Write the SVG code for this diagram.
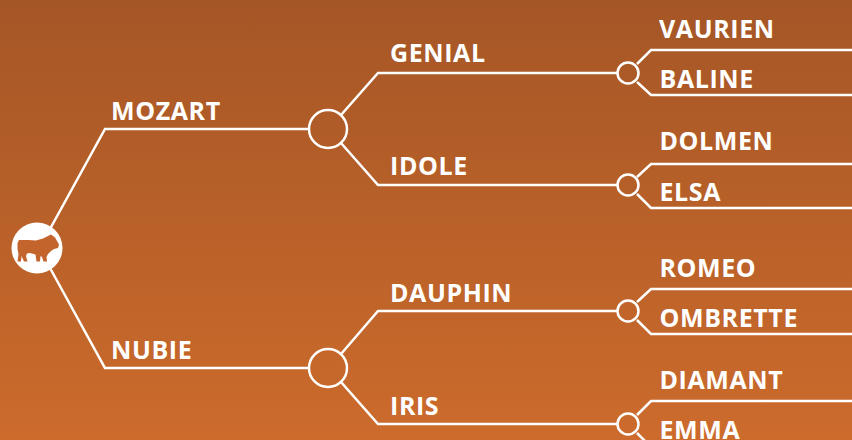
<svg xmlns="http://www.w3.org/2000/svg" width="852" height="440" viewBox="0 0 852 440">
<style>
.c{fill:none;stroke:#fff;stroke-width:2.5}
.n{fill:none;stroke:#fff;stroke-width:2.5}
text{font-family:"Open Sans","Noto Sans",sans-serif;font-weight:700;font-size:25px;fill:#fff;letter-spacing:.6px}
</style>
<defs><linearGradient id="bg" x1="0" y1="0" x2="0" y2="1"><stop offset="0" stop-color="#a55626"/><stop offset="1" stop-color="#cc6b2c"/></linearGradient></defs>
<rect width="852" height="440" fill="url(#bg)"/>
<g id="connectors">
<path class="c" d="M50 229L105 129H309"/>
<path class="c" d="M50 268L105 368H309"/>
<path class="c" d="M341 115L378 73H618"/>
<path class="c" d="M341 143L378 185H618"/>
<path class="c" d="M341 354L378 311H618"/>
<path class="c" d="M341 382L378 424H618"/>
<path class="c" d="M637 64L651 50H852"/>
<path class="c" d="M637 82L651 95H852"/>
<path class="c" d="M637 177L651 164H852"/>
<path class="c" d="M637 194L651 208H852"/>
<path class="c" d="M637 302L651 289H852"/>
<path class="c" d="M637 320L651 334H852"/>
<path class="c" d="M637 415L651 401H852"/>
<path class="c" d="M637 433L651 447H852"/>
</g>
<g id="root"><circle cx="37" cy="248" r="25.500" fill="#fff"/>
<path fill="#c2642b" d="M19 240L28 240L36 240.500L43 238.500L48 236L51 234.500L53 236L55 237.500L57 241L59 244.500L58 248L54 249L51 251L48 254L46.500 257L47 261.500H43.500L42 257L40.500 256L40 261.500H36.500L35.500 254.500L30 253L27 253.500L26 256L27.500 261.500H24L21.500 256L21 261.500H17.500L18.500 254L17.500 249L17.500 243Z"/></g>
<g id="mozart"><text x="111" y="120">MOZART</text><circle class="n" cx="328" cy="129" r="19"/></g>
<g id="nubie"><text x="111" y="359">NUBIE</text><circle class="n" cx="328" cy="368" r="19"/></g>
<g id="genial"><text x="390" y="62">GENIAL</text><circle class="n" cx="628" cy="73" r="10.500"/></g>
<g id="idole"><text x="390" y="175">IDOLE</text><circle class="n" cx="628" cy="185" r="10.500"/></g>
<g id="dauphin"><text x="390" y="302">DAUPHIN</text><circle class="n" cx="628" cy="311" r="10.500"/></g>
<g id="iris"><text x="390" y="415">IRIS</text><circle class="n" cx="628" cy="424" r="10.500"/></g>
<g id="vaurien"><text x="659" y="38">VAURIEN</text></g>
<g id="baline"><text x="659.500" y="88">BALINE</text></g>
<g id="dolmen"><text x="659.500" y="150">DOLMEN</text></g>
<g id="elsa"><text x="659.500" y="201">ELSA</text></g>
<g id="romeo"><text x="659.500" y="277">ROMEO</text></g>
<g id="ombrette"><text x="659.500" y="327">OMBRETTE</text></g>
<g id="diamant"><text x="659.500" y="389">DIAMANT</text></g>
<g id="emma"><text x="659.500" y="439">EMMA</text></g>
</svg>
